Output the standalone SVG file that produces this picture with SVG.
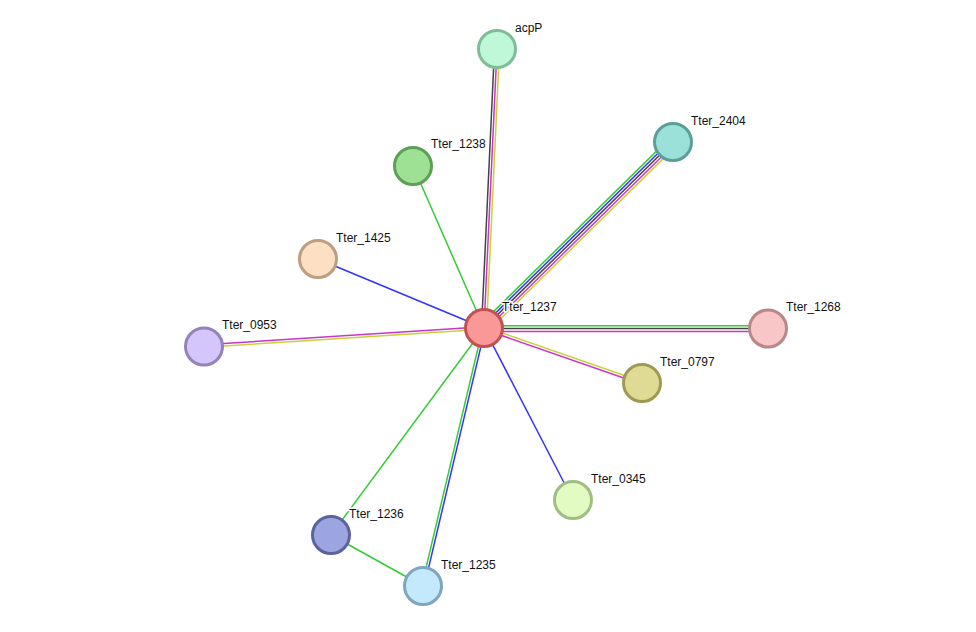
<svg xmlns="http://www.w3.org/2000/svg" width="976" height="632" viewBox="0 0 976 632">
<style>
.e line{stroke-width:1.5;fill:none}
.g{stroke:#33cc33}.b{stroke:#3333ff}.k{stroke:#444444}.m{stroke:#cc33cc}.y{stroke:#c8d234}
.n circle{stroke-width:3}
.n text{font-family:"Liberation Sans",Arial,sans-serif;font-size:12px;fill:#111;stroke:#fff;stroke-width:3px;paint-order:stroke;stroke-linejoin:round}
</style>
<rect width="976" height="632" fill="#ffffff"/>
<g id="edges" class="e">
<line class="k" x1="481.5" y1="327.9" x2="494.5" y2="48.9"/>
<line class="m" x1="484" y1="328" x2="497" y2="49"/>
<line class="y" x1="486.5" y1="328.1" x2="499.5" y2="49.1"/>
<line class="g" x1="480.5" y1="324.4" x2="669.5" y2="138.4"/>
<line class="b" x1="482.2" y1="326.2" x2="671.2" y2="140.2"/>
<line class="k" x1="484" y1="328" x2="673" y2="142"/>
<line class="m" x1="485.8" y1="329.8" x2="674.8" y2="143.8"/>
<line class="y" x1="487.5" y1="331.6" x2="676.5" y2="145.6"/>
<line class="g" x1="484" y1="328" x2="413" y2="166"/>
<line class="b" x1="484" y1="328" x2="318" y2="259"/>
<line class="m" x1="483.9" y1="326.75" x2="203.9" y2="344.75"/>
<line class="y" x1="484.1" y1="329.25" x2="204.1" y2="347.25"/>
<line class="g" x1="484" y1="325.8" x2="768" y2="325.8"/>
<line class="k" x1="484" y1="328.6" x2="768" y2="328.6"/>
<line class="m" x1="484" y1="331.4" x2="768" y2="331.4"/>
<line class="y" x1="484.4" y1="326.8" x2="642.4" y2="381.8"/>
<line class="m" x1="483.6" y1="329.2" x2="641.6" y2="384.2"/>
<line class="b" x1="484" y1="328" x2="573" y2="500"/>
<line class="g" x1="484" y1="328" x2="331" y2="535"/>
<line class="g" x1="331" y1="535" x2="423" y2="586"/>
<line class="g" x1="482.8" y1="327.7" x2="421.8" y2="585.7"/>
<line class="b" x1="485.2" y1="328.3" x2="424.2" y2="586.3"/>
</g>
<g id="acpP" class="n"><circle cx="497" cy="49" r="18.5" fill="#bff7d9" stroke="#7dbe99"/><text x="515" y="32">acpP</text></g>
<g id="Tter_2404" class="n"><circle cx="673" cy="142" r="18.5" fill="#9be1d9" stroke="#5b9f97"/><text x="691" y="125">Tter_2404</text></g>
<g id="Tter_1238" class="n"><circle cx="413" cy="166" r="18.5" fill="#9ee094" stroke="#5d9f56"/><text x="431" y="148">Tter_1238</text></g>
<g id="Tter_1425" class="n"><circle cx="318" cy="259" r="18.5" fill="#fddfc4" stroke="#bd9e80"/><text x="336" y="242">Tter_1425</text></g>
<g id="Tter_0953" class="n"><circle cx="204" cy="346.5" r="18.5" fill="#d4c5fb" stroke="#9582bd"/><text x="222" y="329">Tter_0953</text></g>
<g id="Tter_1268" class="n"><circle cx="768" cy="328.5" r="18.5" fill="#f8c6c6" stroke="#b88888"/><text x="786" y="311">Tter_1268</text></g>
<g id="Tter_0797" class="n"><circle cx="642" cy="383" r="18.5" fill="#dfdb94" stroke="#9e9a55"/><text x="660" y="366">Tter_0797</text></g>
<g id="Tter_0345" class="n"><circle cx="573" cy="500" r="18.5" fill="#e1fbc2" stroke="#a0bd82"/><text x="591" y="483">Tter_0345</text></g>
<g id="Tter_1236" class="n"><circle cx="331" cy="535" r="18.5" fill="#9da5e1" stroke="#5a62a0"/><text x="349" y="518">Tter_1236</text></g>
<g id="Tter_1235" class="n"><circle cx="423" cy="586" r="18.5" fill="#c4e9fc" stroke="#7fa6be"/><text x="441" y="569">Tter_1235</text></g>
<g id="Tter_1237" class="n"><circle cx="484" cy="328" r="18.5" fill="#fa9797" stroke="#c05252"/><text x="502" y="311">Tter_1237</text></g>
</svg>
